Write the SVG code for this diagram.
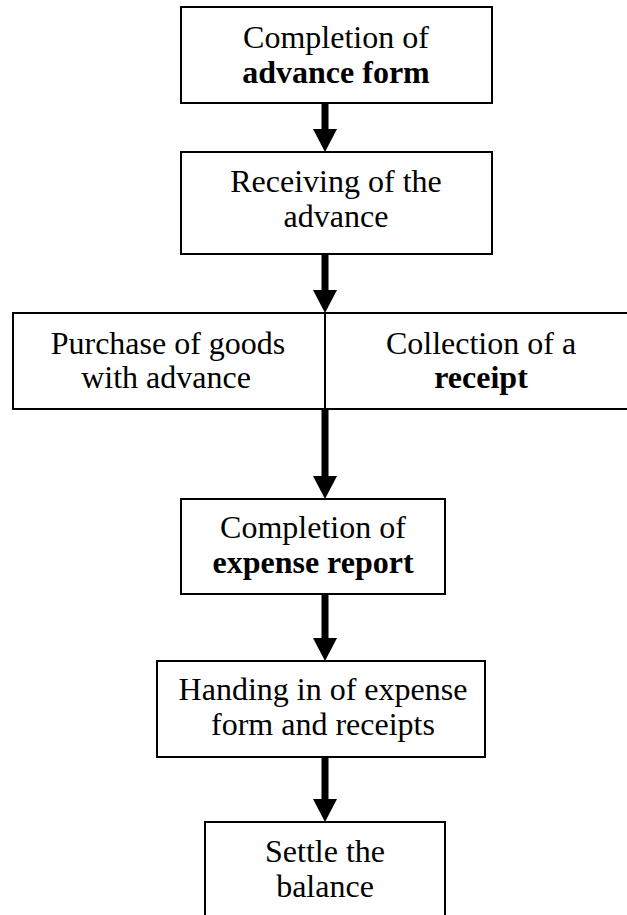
<svg xmlns="http://www.w3.org/2000/svg" width="627" height="915" viewBox="0 0 627 915">
  <style>
    .box { fill: #ffffff; stroke: #000000; stroke-width: 2; }
    .div { stroke: #000000; stroke-width: 2; }
    .lbl { font-family: "Liberation Serif", "Times New Roman", serif; font-size: 32px; fill: #000000; text-anchor: middle; }
    .b { font-weight: bold; }
    .flow { stroke: #000000; stroke-width: 7; fill: none; marker-end: url(#head); }
  </style>
  <defs>
    <!-- solid triangular arrowhead, starts where the shaft ends -->
    <marker id="head" markerUnits="userSpaceOnUse" markerWidth="23" markerHeight="24" viewBox="0 0 23 24" refX="0" refY="12" orient="auto">
      <path d="M0,0 L23,12 L0,24 z" fill="#000000"/>
    </marker>
  </defs>
  <rect width="627" height="915" fill="#ffffff"/>

  <g id="connectors">
    <line class="flow" x1="325" y1="103" x2="325" y2="129"/>
    <line class="flow" x1="325" y1="254" x2="325" y2="290"/>
    <line class="flow" x1="325" y1="409" x2="325" y2="476"/>
    <line class="flow" x1="325" y1="594" x2="325" y2="638"/>
    <line class="flow" x1="325" y1="757" x2="325" y2="799"/>
  </g>

  <g id="advance-form">
    <rect class="box" x="181" y="7" width="311" height="96"/>
    <text class="lbl" x="336" y="48">Completion of</text>
    <text class="lbl b" x="336" y="83">advance form</text>
  </g>

  <g id="receive-advance">
    <rect class="box" x="181" y="152" width="311" height="102"/>
    <text class="lbl" x="336" y="192">Receiving of the</text>
    <text class="lbl" x="336" y="227">advance</text>
  </g>

  <g id="purchase-and-receipt">
    <rect class="box" x="13" y="313" width="625" height="96"/>
    <line class="div" x1="325" y1="313" x2="325" y2="409"/>
    <text class="lbl" x="168" y="354">Purchase of goods</text>
    <text class="lbl" x="166" y="388">with advance</text>
    <text class="lbl" x="481" y="354">Collection of a</text>
    <text class="lbl b" x="481" y="388">receipt</text>
  </g>

  <g id="expense-report">
    <rect class="box" x="181" y="499" width="264" height="95"/>
    <text class="lbl" x="313" y="538">Completion of</text>
    <text class="lbl b" x="313" y="573">expense report</text>
  </g>

  <g id="hand-in">
    <rect class="box" x="157" y="661" width="328" height="96"/>
    <text class="lbl" x="323" y="700">Handing in of expense</text>
    <text class="lbl" x="323" y="735">form and receipts</text>
  </g>

  <g id="settle">
    <rect class="box" x="205" y="822" width="240" height="110"/>
    <text class="lbl" x="325" y="862">Settle the</text>
    <text class="lbl" x="325" y="897">balance</text>
  </g>
</svg>
